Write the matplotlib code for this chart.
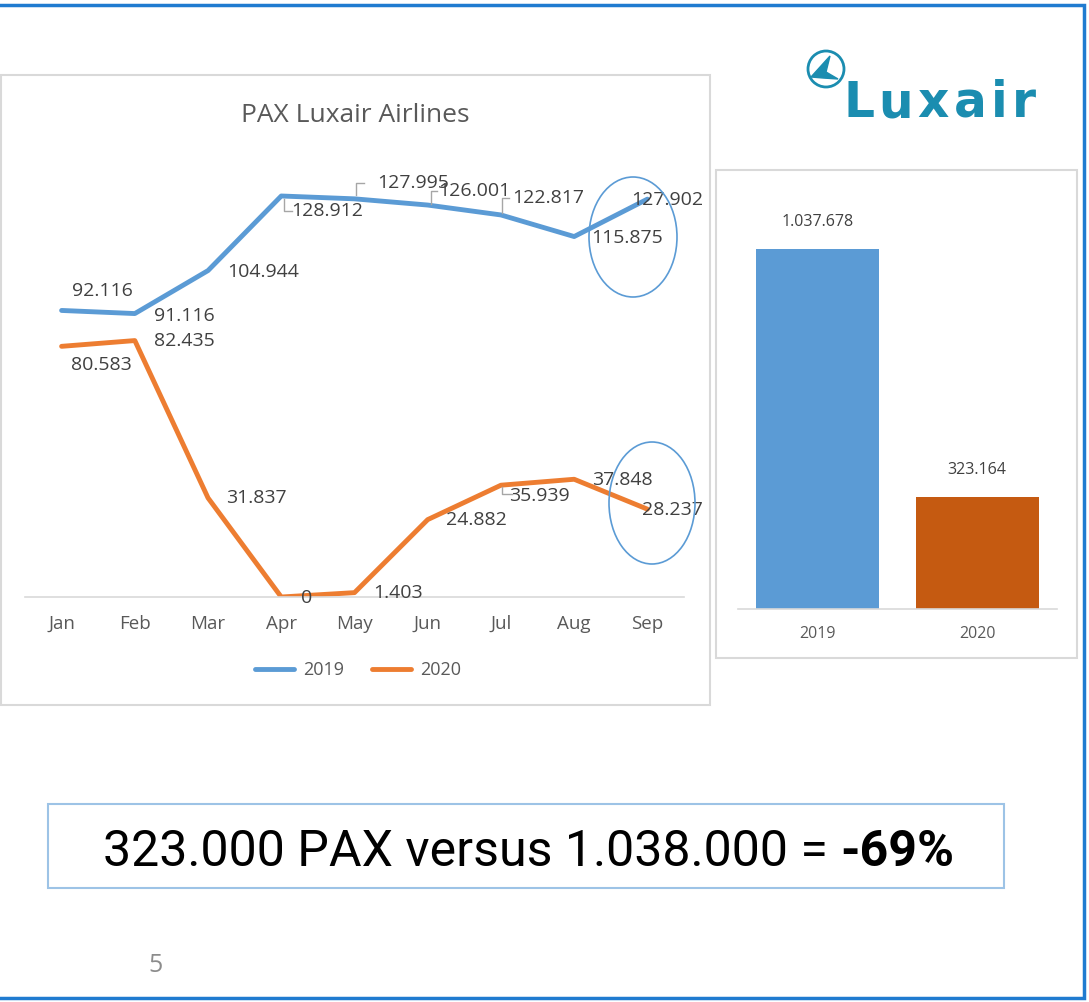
import matplotlib
matplotlib.use('Agg')
import matplotlib.pyplot as plt
from matplotlib.patches import Rectangle, Ellipse, Circle, Polygon

plt.rcParams['font.family'] = ['Open Sans', 'DejaVu Sans']

months = ['Jan', 'Feb', 'Mar', 'Apr', 'May', 'Jun', 'Jul', 'Aug', 'Sep']
pax_2019 = [92116, 91116, 104944, 128912, 127995, 126001, 122817, 115875, 127902]
pax_2020 = [80583, 82435, 31837, 0, 1403, 24882, 35939, 37848, 28237]
totals_years = ['2019', '2020']
totals = [1037678, 323164]

BLUE = '#5B9BD5'
ORANGE = '#ED7D31'
DARK_ORANGE = '#C55A11'
GRID = '#D9D9D9'
LABEL = '#404040'
TICK = '#595959'
TEAL = '#1B8DB0'
FRAME = '#1F7BD0'

W, H = 1089, 1002
fig = plt.figure(figsize=(W / 100, H / 100), dpi=100)


def px_axes(x0, y_top, x1, y_bot):
    return fig.add_axes([x0 / W, 1 - y_bot / H, (x1 - x0) / W, (y_bot - y_top) / H])


def fmt(v):
    return f'{v:,}'.replace(',', '.')


# line chart
ax = px_axes(25, 161.5, 684, 597)
x = range(len(months))
ax.plot(x, pax_2019, color=BLUE, lw=3.5, label='2019', solid_capstyle='round')
ax.plot(x, pax_2020, color=ORANGE, lw=3.5, label='2020', solid_capstyle='round')
ax.set_xlim(-0.5, 8.5)
ax.set_ylim(0, 140000)
for s in ['top', 'right', 'left']:
    ax.spines[s].set_visible(False)
ax.spines['bottom'].set_color(GRID)
ax.spines['bottom'].set_linewidth(1.2)
ax.set_yticks([])
ax.set_xticks(list(x))
ax.set_xticklabels(months, fontsize=13.5, color=TICK)
ax.tick_params(axis='x', length=0, pad=13)

# label offsets in pixels (dx right, dy up) from the data point
off_2019 = [(41, 19), (50, -2), (55, -1), (46, -15), (59, 16), (47, 14), (47, 17), (53, -1), (20, -1)]
off_2020 = [(40, -19), (50, 0), (48, 0), (25, -1), (44, 0), (49, 0), (38, -11), (48, -1), (25, -1)]
for series, offs in [(pax_2019, off_2019), (pax_2020, off_2020)]:
    for i, (v, (dx, dy)) in enumerate(zip(series, offs)):
        ax.annotate(fmt(v), (i, v), xytext=(dx, dy), textcoords='offset pixels',
                    ha='center', va='center', fontsize=14, color=LABEL)

# leader lines (pixel offsets from point)
leaders = [
    (pax_2019, 3, [(3, -3), (3, -15), (11, -15)]),
    (pax_2019, 4, [(2, 4), (2, 16), (10, 16)]),
    (pax_2019, 5, [(3, 1), (3, 14), (9, 14)]),
    (pax_2019, 6, [(1, 2), (1, 17), (8, 17)]),
    (pax_2020, 6, [(1, -2), (1, -9), (11, -9)]),
]
fig.canvas.draw()
for series, i, pts in leaders:
    px, py = ax.transData.transform((i, series[i]))
    xs = [px + dx for dx, dy in pts]
    ys = [py + dy for dx, dy in pts]
    ax.add_line(plt.Line2D(xs, ys, transform=None, color='#A6A6A6', lw=1))

fig.legend(loc='center', bbox_to_anchor=(358 / W, 1 - 670 / H), ncol=2, frameon=False,
           fontsize=13, handlelength=2.2, columnspacing=1.5, handletextpad=0.5,
           labelcolor=TICK)

# bar chart
bx = px_axes(738, 192.7, 1057, 609)
bx.bar(range(len(totals)), totals, width=0.77, color=[BLUE, DARK_ORANGE])
bx.set_xlim(-0.5, 1.5)
bx.set_ylim(0, 1200000)
for s in ['top', 'right', 'left']:
    bx.spines[s].set_visible(False)
bx.spines['bottom'].set_color(GRID)
bx.spines['bottom'].set_linewidth(1.2)
bx.set_yticks([])
bx.set_xticks(range(len(totals)))
bx.set_xticklabels(totals_years, fontsize=11.5, color=TICK)
bx.tick_params(axis='x', length=0, pad=12)
for i, v in enumerate(totals):
    bx.annotate(fmt(v), (i, v), xytext=(0, 27), textcoords='offset pixels',
                ha='center', va='center', fontsize=11.5, color=LABEL)

# overlay in pixel coordinates for decorations
ov = fig.add_axes([0, 0, 1, 1], zorder=10)
ov.set_xlim(0, W)
ov.set_ylim(H, 0)
ov.axis('off')
ov.patch.set_alpha(0)

# slide frame
ov.plot([0, 1084, 1084, 0], [5, 5, 998, 998], color=FRAME, lw=2.5, solid_joinstyle='miter')

# panels
ov.add_patch(Rectangle((1, 75), 709, 630, fill=False, edgecolor=GRID, lw=1.5))
ov.add_patch(Rectangle((716, 170), 361, 488, fill=False, edgecolor=GRID, lw=1.5))
ov.text(355, 115, 'PAX Luxair Airlines', ha='center', va='center', fontsize=19, color=TICK)

# highlight ellipses
ov.add_patch(Ellipse((633, 237), 88, 120, fill=False, edgecolor=BLUE, lw=1.2))
ov.add_patch(Ellipse((652, 503), 86, 122, fill=False, edgecolor=BLUE, lw=1.2))

# logo: circle with tail, then letter-spaced wordmark
ov.add_patch(Circle((826, 69), 18, fill=False, edgecolor=TEAL, lw=2))
ov.add_patch(Polygon([(811, 77), (830, 56), (826, 72), (838, 79), (823, 78)],
                     closed=True, facecolor=TEAL, edgecolor=TEAL, lw=1))
renderer = fig.canvas.get_renderer()
cur = 843
for ch in 'Luxair':
    t = ov.text(cur, 117, ch, ha='left', va='baseline', fontsize=35, fontweight='bold',
                color=TEAL, family='DejaVu Sans')
    cur += t.get_window_extent(renderer).width + 4.5

# summary box
ov.add_patch(Rectangle((48, 804), 956, 84, fill=False, edgecolor='#9DC3E6', lw=1.5))
fam = ['Roboto', 'DejaVu Sans']
t1 = ov.text(103, 866, '323.000 PAX versus 1.038.000 = ', ha='left', va='baseline',
             fontsize=36, color='black', family=fam)
ov.annotate('-69%', xy=(1, 0), xycoords=t1, ha='left', va='bottom',
            fontsize=36, fontweight='bold', color='black', family=fam)

ov.text(155, 965, '5', ha='center', va='center', fontsize=18, color='#8C8C8C')

fig.savefig('out.png', dpi=100, facecolor='white')
